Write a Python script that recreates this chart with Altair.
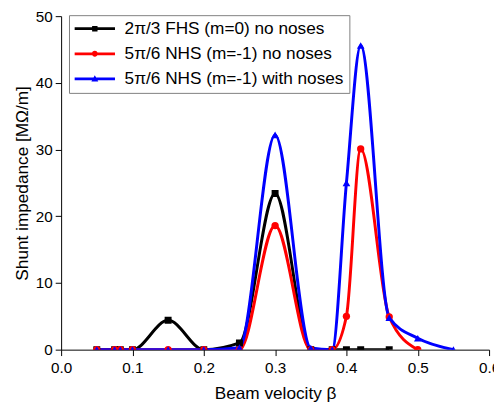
import altair as alt
import pandas as pd

# ---- data ----
series = ["2π/3 FHS (m=0) no noses", "5π/6 NHS (m=-1) no noses", "5π/6 NHS (m=-1) with noses"]
colors = ["#000000", "#ff0000", "#0000ff"]
shapes = ["square", "circle", "triangle-up"]
marker_sizes = [50, 60, 110]

beta_fhs = [0.05, 0.075, 0.083, 0.1, 0.15, 0.2, 0.25, 0.3, 0.35, 0.38, 0.4, 0.42, 0.46]
z_fhs = [0, 0, 0, 0, 4.4, 0, 1.0, 23.4, 0, 0, 0, 0, 0]

beta_nhs = [0.05, 0.075, 0.083, 0.1, 0.15, 0.2, 0.25, 0.3, 0.35, 0.38, 0.4, 0.42, 0.46, 0.5]
z_nhs = [0, 0, 0, 0, 0, 0, 0, 18.6, 0, 0, 5.0, 30.1, 4.9, 0]

beta_nose = [0.05, 0.075, 0.083, 0.1, 0.15, 0.2, 0.25, 0.3, 0.35, 0.38, 0.4, 0.42, 0.46, 0.5, 0.55]
z_nose = [0, 0, 0, 0, 0, 0, 0.3, 32.2, 0.25, 0, 25.0, 45.6, 4.8, 1.7, 0]

x_ticks = [0.0, 0.05, 0.1, 0.15, 0.2, 0.25, 0.3, 0.35, 0.4, 0.45, 0.5, 0.55, 0.6]
y_ticks = [0, 5, 10, 15, 20, 25, 30, 35, 40, 45, 50]

rows = []
for i, (bs, zs) in enumerate([(beta_fhs, z_fhs), (beta_nhs, z_nhs), (beta_nose, z_nose)]):
    for b, z in zip(bs, zs):
        rows.append({"series": series[i], "marker": shapes[i], "beta": b, "z": z})
df = pd.DataFrame(rows)

FONT = "Liberation Sans"

# legend symbols: filled line segment + marker (custom paths, symbol units, all clockwise)
c = 2.5
seg = "M-1.6,-0.28H6.6V0.28H-1.6Z"
legend_paths = [
    f"{seg}M{c-0.55},-0.55H{c+0.55}V0.55H{c-0.55}Z",
    f"{seg}M{c+0.6},0A0.6,0.6 0 1,1 {c-0.6},0A0.6,0.6 0 1,1 {c+0.6},0Z",
    f"{seg}M{c},-0.75L{c+0.7},0.55H{c-0.7}Z",
]
sym_expr = (
    f"datum.value === '{series[0]}' ? '{legend_paths[0]}' : "
    f"datum.value === '{series[1]}' ? '{legend_paths[1]}' : '{legend_paths[2]}'"
)


def make_legend():
    return alt.Legend(
        title=None,
        orient="none",
        legendX=8,
        legendY=-1,
        padding=5,
        strokeColor="#808080",
        fillColor="white",
        cornerRadius=0,
        labelFont=FONT,
        labelFontSize=17.5,
        labelColor="#000000",
        labelLimit=400,
        labelOffset=34,
        symbolSize=100,
        symbolStrokeWidth=0,
        symbolType={"expr": sym_expr},
        rowPadding=6.5,
    )


color_scale = alt.Scale(domain=series, range=colors)

major_x = "abs(datum.value*10 - round(datum.value*10)) < 0.001"
major_y = "abs(datum.value/10 - round(datum.value/10)) < 0.001"

x_enc = alt.X(
    "beta:Q",
    scale=alt.Scale(domain=[0, 0.6], nice=False, zero=False),
    axis=alt.Axis(
        values=x_ticks,
        labelExpr=f"{major_x} ? format(datum.value, '.1f') : ''",
        tickSize={"condition": {"test": major_x, "value": 6}, "value": 4},
        grid=False,
        domainColor="#000000",
        tickColor="#000000",
        labelColor="#000000",
        labelFont=FONT,
        labelFontSize=15.5,
        labelPadding=5,
        labelFlush=False,
        title="Beam velocity β",
        titleFont=FONT,
        titleFontSize=17.5,
        titleFontWeight="normal",
        titleColor="#000000",
        titleX=217.5,
        titleY=50,
        titleBaseline="alphabetic",
        titleAlign="center",
    ),
)
y_enc = alt.Y(
    "z:Q",
    scale=alt.Scale(domain=[0, 50], nice=False),
    axis=alt.Axis(
        values=y_ticks,
        labelExpr=f"{major_y} ? format(datum.value, 'd') : ''",
        tickSize={"condition": {"test": major_y, "value": 6}, "value": 3},
        grid=False,
        domainColor="#000000",
        tickColor="#000000",
        labelColor="#000000",
        labelFont=FONT,
        labelFontSize=15.5,
        labelPadding=3,
        labelFlush=False,
        title="Shunt impedance [MΩ/m]",
        titleFont=FONT,
        titleFontSize=17.5,
        titleFontWeight="normal",
        titleColor="#000000",
        titleAngle=270,
        titleX=-34,
        titleY=169.5,
        titleBaseline="alphabetic",
        titleAlign="center",
    ),
)

lines = alt.Chart(df).mark_line(interpolate="monotone", strokeWidth=3, clip=True).encode(
    x=x_enc,
    y=y_enc,
    color=alt.Color("series:N", scale=color_scale, sort=series, legend=make_legend()),
)

points = alt.Chart(df).mark_point(filled=True, opacity=1, clip=True).encode(
    x=alt.X("beta:Q"),
    y=alt.Y("z:Q"),
    color=alt.Color("series:N", scale=color_scale, sort=series, legend=make_legend()),
    shape=alt.Shape("marker:N", scale=alt.Scale(domain=shapes, range=shapes), legend=None),
    size=alt.Size("marker:N", scale=alt.Scale(domain=shapes, range=marker_sizes), legend=None),
)

chart = (
    alt.layer(lines, points)
    .properties(
        width=435,
        height=339,
        autosize=alt.AutoSizeParams(type="none"),
        padding={"left": 54, "top": 5, "right": 5, "bottom": 55},
        background="white",
    )
    .configure_view(stroke=None)
)

chart.save("out.html", embed_options={"renderer": "svg", "actions": False})
